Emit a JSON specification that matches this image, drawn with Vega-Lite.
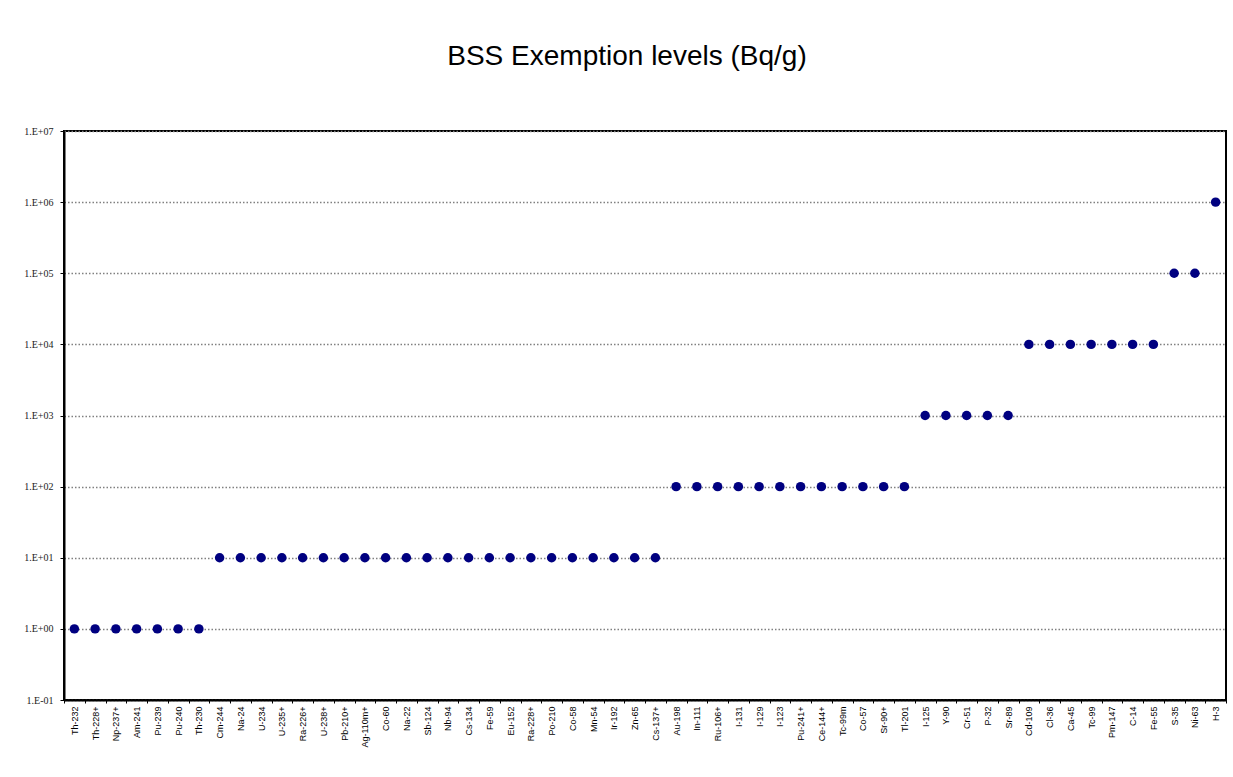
{
  "$schema": "https://vega.github.io/schema/vega-lite/v6.json",
  "autosize": {"type": "none"},
  "padding": {"left": 64, "top": 131, "right": 7, "bottom": 77},
  "width": 1162,
  "height": 569,
  "background": "white",
  "title": {
    "text": "BSS Exemption levels (Bq/g)",
    "font": "Liberation Sans",
    "fontSize": 28,
    "fontWeight": "normal",
    "color": "black",
    "anchor": "middle",
    "frame": "group",
    "dx": -18,
    "offset": 55
  },
  "data": {
    "values": [
      {"nuclide": "Th-232", "level": 1},
      {"nuclide": "Th-228+", "level": 1},
      {"nuclide": "Np-237+", "level": 1},
      {"nuclide": "Am-241", "level": 1},
      {"nuclide": "Pu-239", "level": 1},
      {"nuclide": "Pu-240", "level": 1},
      {"nuclide": "Th-230", "level": 1},
      {"nuclide": "Cm-244", "level": 10},
      {"nuclide": "Na-24", "level": 10},
      {"nuclide": "U-234", "level": 10},
      {"nuclide": "U-235+", "level": 10},
      {"nuclide": "Ra-226+", "level": 10},
      {"nuclide": "U-238+", "level": 10},
      {"nuclide": "Pb-210+", "level": 10},
      {"nuclide": "Ag-110m+", "level": 10},
      {"nuclide": "Co-60", "level": 10},
      {"nuclide": "Na-22", "level": 10},
      {"nuclide": "Sb-124", "level": 10},
      {"nuclide": "Nb-94", "level": 10},
      {"nuclide": "Cs-134", "level": 10},
      {"nuclide": "Fe-59", "level": 10},
      {"nuclide": "Eu-152", "level": 10},
      {"nuclide": "Ra-228+", "level": 10},
      {"nuclide": "Po-210", "level": 10},
      {"nuclide": "Co-58", "level": 10},
      {"nuclide": "Mn-54", "level": 10},
      {"nuclide": "Ir-192", "level": 10},
      {"nuclide": "Zn-65", "level": 10},
      {"nuclide": "Cs-137+", "level": 10},
      {"nuclide": "Au-198", "level": 100},
      {"nuclide": "In-111", "level": 100},
      {"nuclide": "Ru-106+", "level": 100},
      {"nuclide": "I-131", "level": 100},
      {"nuclide": "I-129", "level": 100},
      {"nuclide": "I-123", "level": 100},
      {"nuclide": "Pu-241+", "level": 100},
      {"nuclide": "Ce-144+", "level": 100},
      {"nuclide": "Tc-99m", "level": 100},
      {"nuclide": "Co-57", "level": 100},
      {"nuclide": "Sr-90+", "level": 100},
      {"nuclide": "Tl-201", "level": 100},
      {"nuclide": "I-125", "level": 1000},
      {"nuclide": "Y-90", "level": 1000},
      {"nuclide": "Cr-51", "level": 1000},
      {"nuclide": "P-32", "level": 1000},
      {"nuclide": "Sr-89", "level": 1000},
      {"nuclide": "Cd-109", "level": 10000},
      {"nuclide": "Cl-36", "level": 10000},
      {"nuclide": "Ca-45", "level": 10000},
      {"nuclide": "Tc-99", "level": 10000},
      {"nuclide": "Pm-147", "level": 10000},
      {"nuclide": "C-14", "level": 10000},
      {"nuclide": "Fe-55", "level": 10000},
      {"nuclide": "S-35", "level": 100000},
      {"nuclide": "Ni-63", "level": 100000},
      {"nuclide": "H-3", "level": 1000000}
    ]
  },
  "mark": {"type": "point", "shape": "circle", "filled": true, "size": 90, "color": "#000080", "opacity": 1},
  "encoding": {
    "x": {
      "field": "nuclide",
      "type": "nominal",
      "sort": null,
      "scale": {"type": "band", "paddingInner": 0, "paddingOuter": 0},
      "axis": {
        "title": null,
        "labelAngle": -90,
        "labelAlign": "right",
        "labelBaseline": "middle",
        "labelFont": "Liberation Sans",
        "labelFontSize": 9,
        "labelColor": "black",
        "labelPadding": 3,
        "tickBand": "extent",
        "tickColor": "black",
        "tickSize": 3,
        "domainColor": "black",
        "domainWidth": 2,
        "grid": false,
        "labelOverlap": false
      }
    },
    "y": {
      "field": "level",
      "type": "quantitative",
      "scale": {"type": "log", "domain": [0.1, 10000000], "nice": false},
      "axis": {
        "title": null,
        "values": [0.1, 1, 10, 100, 1000, 10000, 100000, 1000000, 10000000],
        "labelExpr": "'1.E' + (datum.value >= 1 ? '+' : '-') + (abs(round(log(datum.value) / LN10)) < 10 ? '0' : '') + abs(round(log(datum.value) / LN10))",
        "labelFont": "Liberation Serif",
        "labelFontSize": 10,
        "labelColor": "#222222",
        "labelPadding": 7,
        "tickColor": "black",
        "tickSize": 4,
        "domainColor": "black",
        "domainWidth": 2,
        "grid": true,
        "gridColor": "#808080",
        "gridDash": [1.5, 2],
        "gridWidth": 1.5
      }
    }
  },
  "config": {
    "view": {"stroke": "black", "strokeWidth": 2}
  }
}
